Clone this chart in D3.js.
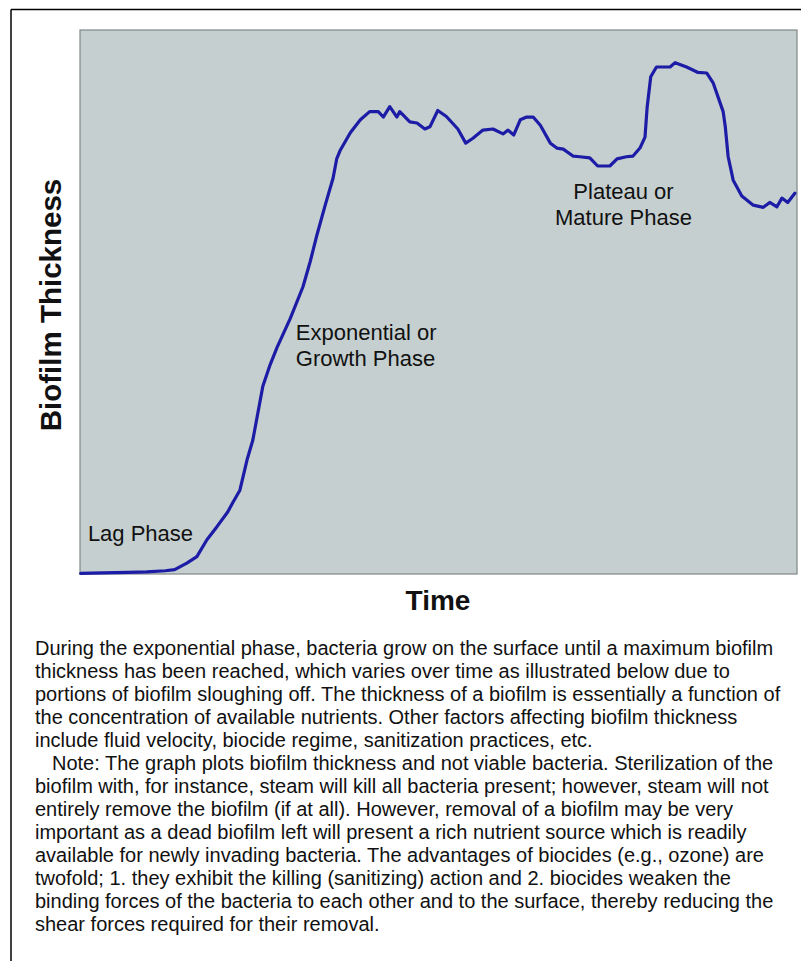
<!DOCTYPE html>
<html>
<head>
<meta charset="utf-8">
<script src="https://cdn.jsdelivr.net/npm/d3@7"></script>
<style>
  html, body { margin: 0; padding: 0; background: #ffffff; }
  svg { display: block; }
  text { font-family: "Liberation Sans", Arial, Helvetica, sans-serif; fill: #111; }
</style>
</head>
<body>
<svg id="chart" width="801" height="961"></svg>
<script>
// Biofilm growth curve: time (arbitrary units, 0-100) vs thickness (relative, 0-100)
const time = [
  0.1, 3.2, 6.7, 9.3, 11.9, 13.2, 14.9, 16.3, 17.7, 19.1, 20.6, 21.3, 22.3, 23.3, 24.1,
  25.5, 26.5, 27.5, 29.3, 31.1, 32.1, 33.1, 34.2, 35.3, 35.8, 36.3, 37.7, 39.1, 40.4,
  41.6, 42.3, 43.2, 44.2, 44.6, 46.0, 47.0, 48.1, 48.8, 49.9, 51.1, 52.7, 53.8, 54.8,
  56.2, 57.6, 59.0, 59.7, 60.5, 61.4, 62.3, 63.2, 64.2, 65.6, 66.5, 67.4, 68.8, 69.7,
  71.1, 72.2, 73.9, 74.9, 76.2, 77.1, 78.1, 78.8, 79.1, 79.6, 80.4, 82.3, 83.0, 84.6,
  86.2, 87.4, 88.3, 89.7, 90.0, 90.4, 91.1, 92.3, 93.9, 95.3, 96.2, 97.2, 97.9, 98.7, 99.7
];
const thickness = [
  0.1, 0.2, 0.3, 0.4, 0.6, 0.8, 2.0, 3.2, 6.3, 8.7, 11.4, 13.1, 15.4, 21.0, 24.6,
  34.5, 38.4, 41.7, 46.9, 52.8, 57.4, 62.6, 67.8, 72.8, 76.3, 77.9, 81.1, 83.5, 85.0,
  85.0, 84.0, 85.9, 84.0, 85.0, 83.1, 82.9, 81.8, 82.2, 85.2, 84.1, 81.8, 79.2, 80.1,
  81.6, 81.8, 80.9, 81.6, 80.7, 83.5, 84.0, 84.0, 82.5, 79.2, 78.3, 78.1, 76.8, 76.7,
  76.5, 75.0, 75.0, 76.3, 76.7, 76.8, 78.3, 80.3, 85.8, 91.4, 93.2, 93.2, 94.0, 93.2,
  92.2, 92.1, 90.3, 85.0, 82.2, 76.7, 72.4, 69.5, 67.8, 67.4, 68.3, 67.5, 69.1, 68.3, 70.0
];

// Phase annotations placed in data coordinates
const phaseLabels = [
  { lines: ["Lag Phase"], t: 1.1, v: 6.1, anchor: "start" },
  { lines: ["Exponential or", "Growth Phase"], t: 30.1, v: 43.0, anchor: "start" },
  { lines: ["Plateau or", "Mature Phase"], t: 75.8, v: 69.0, anchor: "middle" }
];

const xTitle = "Time";
const yTitle = "Biofilm Thickness";

const captionLines = [
  "During the exponential phase, bacteria grow on the surface until a maximum biofilm",
  "thickness has been reached, which varies over time as illustrated below due to",
  "portions of biofilm sloughing off. The thickness of a biofilm is essentially a function of",
  "the concentration of available nutrients. Other factors affecting biofilm thickness",
  "include fluid velocity, biocide regime, sanitization practices, etc.",
  "Note: The graph plots biofilm thickness and not viable bacteria. Sterilization of the",
  "biofilm with, for instance, steam will kill all bacteria present; however, steam will not",
  "entirely remove the biofilm (if at all). However, removal of a biofilm may be very",
  "important as a dead biofilm left will present a rich nutrient source which is readily",
  "available for newly invading bacteria. The advantages of biocides (e.g., ozone) are",
  "twofold; 1. they exhibit the killing (sanitizing) action and 2. biocides weaken the",
  "binding forces of the bacteria to each other and to the surface, thereby reducing the",
  "shear forces required for their removal."
];
const indentedLines = [5];

const svg = d3.select("#chart");

// Page frame (top and left rules)
svg.append("line").attr("x1", 11).attr("y1", 9.5).attr("x2", 801).attr("y2", 9.5)
  .attr("stroke", "#000").attr("stroke-width", 1.5);
svg.append("line").attr("x1", 11).attr("y1", 9.5).attr("x2", 11).attr("y2", 961)
  .attr("stroke", "#000").attr("stroke-width", 1.5);

const plot = { left: 80, top: 30, right: 797, bottom: 574 };

const x = d3.scaleLinear().domain([0, 100]).range([plot.left, plot.right]);
const y = d3.scaleLinear().domain([0, 100]).range([plot.bottom, plot.top]);

// Plot background
svg.append("rect")
  .attr("x", plot.left).attr("y", plot.top)
  .attr("width", plot.right - plot.left).attr("height", plot.bottom - plot.top)
  .attr("fill", "#c5cfcf")
  .attr("stroke", "#7f8686").attr("stroke-width", 1.2);

const data = time.map((t, i) => ({ t, v: thickness[i] }));

const line = d3.line().x(d => x(d.t)).y(d => y(d.v)).curve(d3.curveLinear);

svg.append("path")
  .datum(data)
  .attr("d", line)
  .attr("fill", "none")
  .attr("stroke", "#1c1ca6")
  .attr("stroke-width", 3.2)
  .attr("stroke-linejoin", "round")
  .attr("stroke-linecap", "round");

// Phase annotations
phaseLabels.forEach(p => {
  const txt = svg.append("text")
    .attr("x", x(p.t)).attr("y", y(p.v))
    .attr("text-anchor", p.anchor)
    .style("font-size", "22px");
  p.lines.forEach((s, i) => {
    txt.append("tspan").attr("x", x(p.t)).attr("dy", i === 0 ? 0 : 26).text(s);
  });
});

// Axis titles
svg.append("text")
  .attr("x", (plot.left + plot.right) / 2 - 0.5).attr("y", 610)
  .attr("text-anchor", "middle")
  .style("font-size", "28px").style("font-weight", "bold")
  .text(xTitle);

svg.append("text")
  .attr("transform", `translate(61,${(plot.top + plot.bottom) / 2 + 3}) rotate(-90)`)
  .attr("text-anchor", "middle")
  .style("font-size", "29.5px").style("font-weight", "bold")
  .text(yTitle);

// Caption paragraph
const caption = svg.append("text").style("font-size", "20px");
captionLines.forEach((s, i) => {
  caption.append("tspan")
    .attr("x", indentedLines.includes(i) ? 52 : 35)
    .attr("y", 655 + i * 23)
    .text(s);
});
</script>
</body>
</html>
